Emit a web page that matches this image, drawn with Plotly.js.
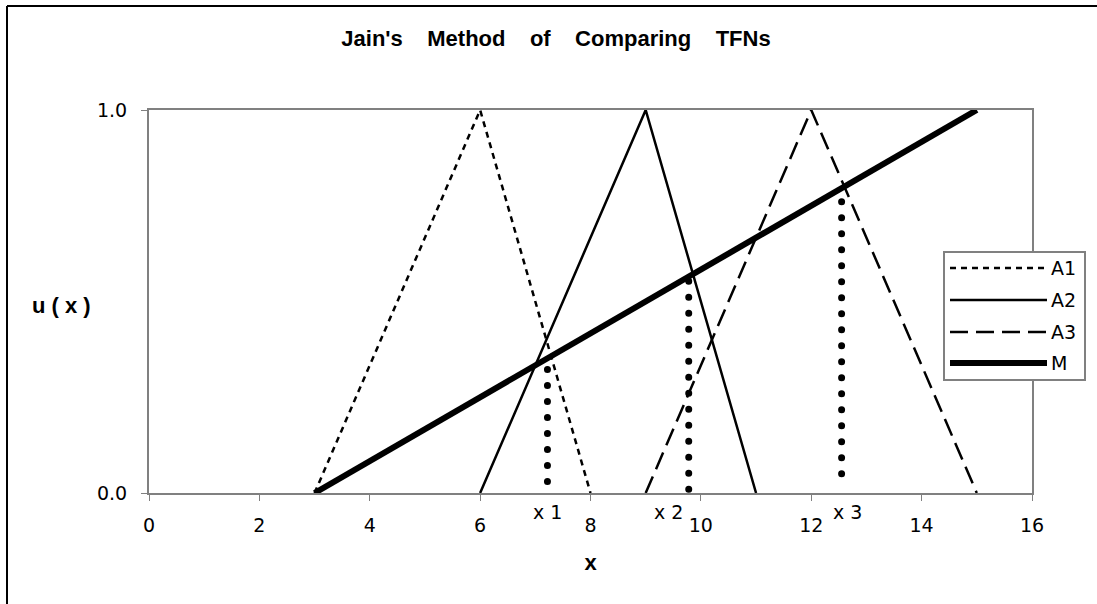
<!DOCTYPE html>
<html>
<head>
<meta charset="utf-8">
<script src="https://cdn.plot.ly/plotly-3.0.1.min.js"></script>
<style>
  html, body { margin: 0; padding: 0; background: #fff; }
  #chart { width: 1097px; height: 604px; }
</style>
</head>
<body>
<div id="chart"></div>
<script>
// TFN vertices (x) and memberships (u)
const a1X = [3, 6, 8];
const a1Y = [0, 1, 0];
const a2X = [6, 9, 11];
const a2Y = [0, 1, 0];
const a3X = [9, 12, 15];
const a3Y = [0, 1, 0];
const mX = [3, 15];
const mY = [0, 1];

// dotted drops from the crossings with M
const cutX = [7.22, 9.78, 12.55];
const cutLow = [0.03, 0.01, 0.05];
const cutHigh = [0.34, 0.56, 0.77];
const cutLabels = ['x 1', 'x 2', 'x 3'];

const seriesNames = ['A1', 'A2', 'A3', 'M'];
const xTickVals = [0, 2, 4, 6, 8, 10, 12, 14, 16];
const yTickVals = [0, 1];
const yTickText = ['0.0', '1.0'];

const W = 1097, H = 604;
const M = { l: 149, r: 65, t: 110, b: 111 };
const PW = W - M.l - M.r, PH = H - M.t - M.b;
// pixel -> paper helpers (for the hand drawn legend / borders)
const px = v => (v - M.l) / PW;
const py = v => (H - M.b - v) / PH;

const AX_GRAY = '#808080';
const TICK_FONT = { family: 'DejaVu Sans', size: 19, color: '#000' };
const BOLD_FONT = { family: 'Liberation Sans', size: 22, color: '#000', weight: 'bold' };

const lineStyles = [
  { color: '#000', width: 2.5, dash: '6px,5px' },
  { color: '#000', width: 2.5, dash: 'solid' },
  { color: '#000', width: 2.5, dash: '18px,8px' },
  { color: '#000', width: 6, dash: 'solid' },
];

const seriesX = [a1X, a2X, a3X, mX];
const seriesY = [a1Y, a2Y, a3Y, mY];

const traces = seriesNames.map((name, i) => ({
  type: 'scatter',
  mode: 'lines',
  name,
  x: seriesX[i],
  y: seriesY[i],
  line: lineStyles[i],
  hoverinfo: 'skip',
  cliponaxis: false,
}));

cutX.forEach((x, i) => {
  traces.push({
    type: 'scatter',
    mode: 'lines',
    name: cutLabels[i],
    x: [x, x],
    y: [cutLow[i], cutHigh[i]],
    line: { color: '#000', width: 7, dash: '0px,16px' },
    hoverinfo: 'skip',
  });
});

const labelShift = [0, -20, 6];
const annotations = cutLabels.map((t, i) => ({
  text: t, x: cutX[i], xref: 'x', y: py(512), yref: 'paper',
  xshift: labelShift[i], showarrow: false, yanchor: 'middle',
  font: TICK_FONT,
}));
annotations.push({
  text: 'u ( x )', x: px(61.5), y: py(305), xref: 'paper', yref: 'paper',
  showarrow: false, xanchor: 'center', yanchor: 'middle', font: BOLD_FONT,
});

// chart-area frame (only top and left edges fall inside the picture)
const shapes = [
  { type: 'line', xref: 'paper', yref: 'paper', x0: px(7), x1: px(W + 5), y0: py(6), y1: py(6),
    line: { color: '#000', width: 2 }, layer: 'below' },
  { type: 'line', xref: 'paper', yref: 'paper', x0: px(7), x1: px(7), y0: py(6), y1: py(H + 5),
    line: { color: '#000', width: 2 }, layer: 'below' },
  // legend box, drawn by hand (Excel style long samples)
  { type: 'rect', xref: 'paper', yref: 'paper', x0: px(944), x1: px(1085), y0: py(380), y1: py(252),
    line: { color: AX_GRAY, width: 2 }, fillcolor: '#fff', layer: 'above' },
];
const legRows = [268, 300, 332, 363];
seriesNames.forEach((name, i) => {
  shapes.push({
    type: 'line', xref: 'paper', yref: 'paper',
    x0: px(950), x1: px(1047), y0: py(legRows[i]), y1: py(legRows[i]),
    line: lineStyles[i], layer: 'above',
  });
  annotations.push({
    text: name, xref: 'paper', yref: 'paper', x: px(1049), y: py(legRows[i]),
    xanchor: 'left', yanchor: 'middle', showarrow: false, font: TICK_FONT,
  });
});

const axisBase = {
  showline: true, linecolor: AX_GRAY, linewidth: 2, mirror: true,
  showgrid: false, zeroline: false,
  ticks: 'outside', ticklen: 6, tickcolor: AX_GRAY, tickwidth: 1,
  tickfont: TICK_FONT, fixedrange: true,
};

const layout = {
  width: W, height: H,
  margin: M,
  paper_bgcolor: '#fff',
  plot_bgcolor: '#fff',
  showlegend: false,
  title: {
    text: "Jain's\u00a0\u00a0\u00a0\u00a0Method\u00a0\u00a0\u00a0\u00a0of\u00a0\u00a0\u00a0\u00a0Comparing\u00a0\u00a0\u00a0\u00a0TFNs",
    font: BOLD_FONT,
    xref: 'container', yref: 'container',
    x: 556 / W, y: 1 - 38 / H, xanchor: 'center', yanchor: 'middle',
  },
  xaxis: {
    ...axisBase, range: [0, 16], tickvals: xTickVals, ticklabelstandoff: 8,
    title: { text: 'x', font: BOLD_FONT, standoff: 20 },
  },
  yaxis: {
    ...axisBase, range: [0, 1], tickvals: yTickVals, ticktext: yTickText, ticklabelstandoff: 10,
  },
  shapes,
  annotations,
};

Plotly.newPlot('chart', traces, layout, { displayModeBar: false, staticPlot: true }).then(gd => {
  // round caps turn the 0-length dashes into dots
  const lines = gd.querySelectorAll('.scatterlayer .trace');
  lines.forEach((g, i) => {
    if (i >= seriesNames.length) {
      g.querySelectorAll('path.js-line').forEach(p => { p.style.strokeLinecap = 'round'; });
    }
  });
});
</script>
</body>
</html>
